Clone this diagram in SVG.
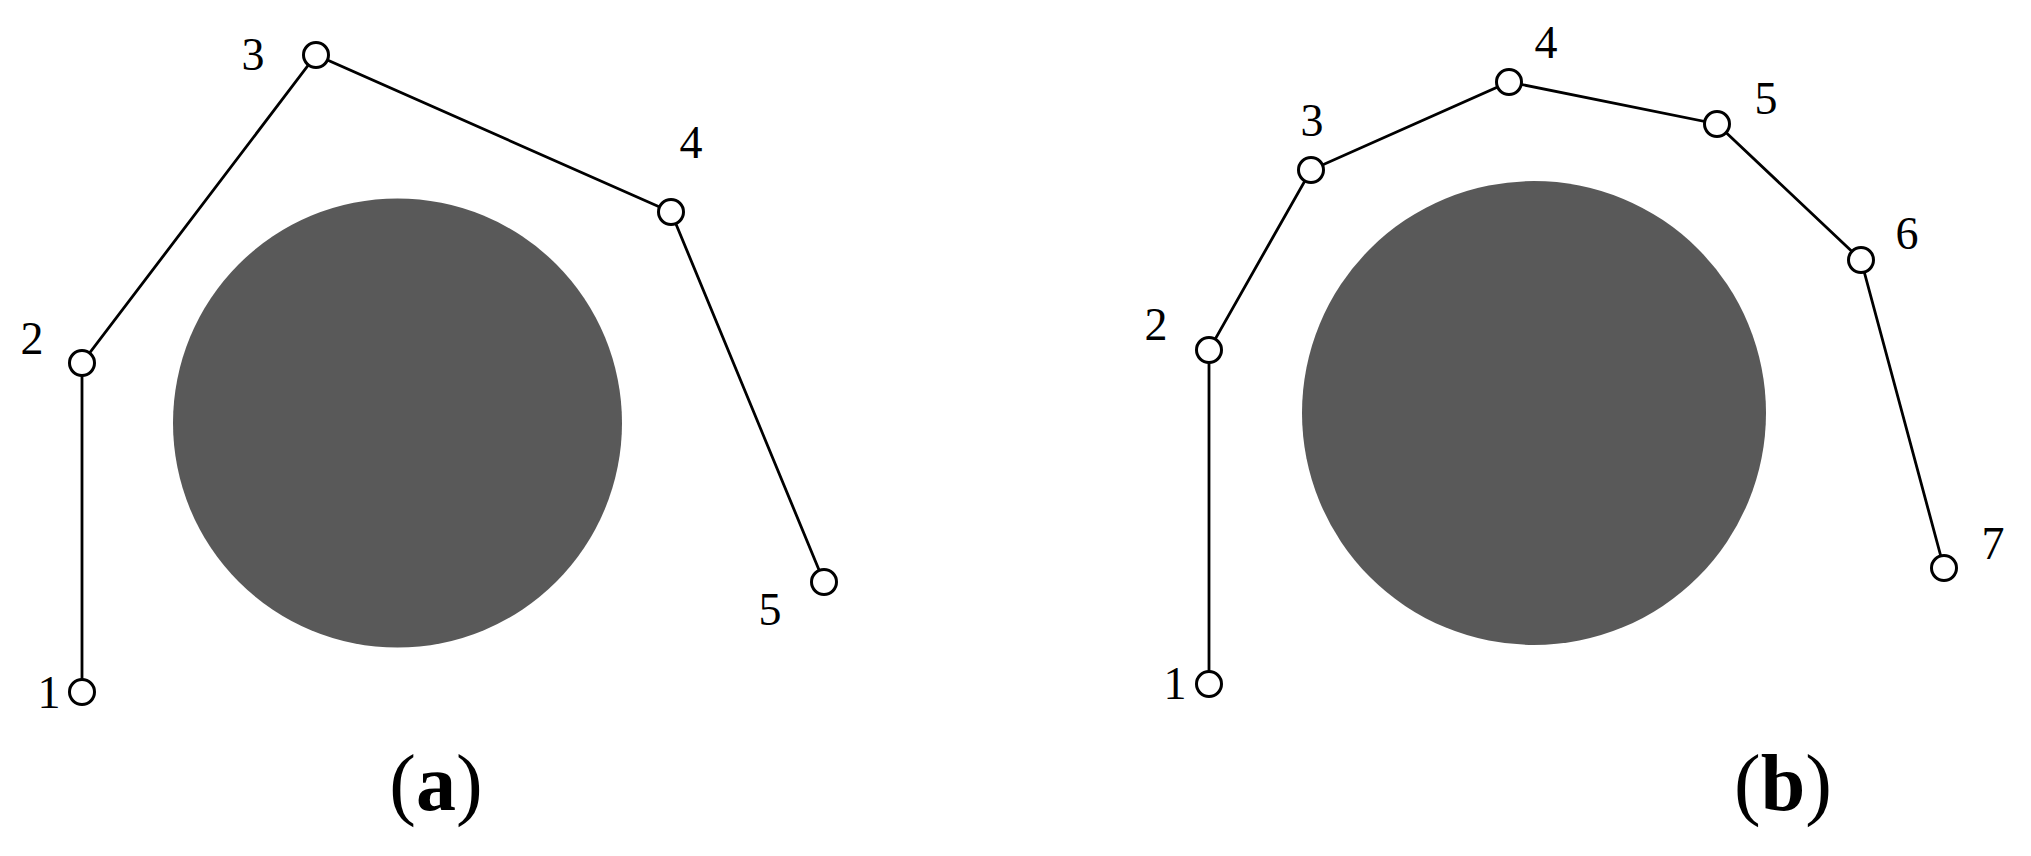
<svg xmlns="http://www.w3.org/2000/svg" width="2031" height="856" viewBox="0 0 2031 856">
<style>
.obs{fill:#595959;stroke:none}
.edge{fill:none;stroke:#000;stroke-width:2.8;stroke-linejoin:miter}
.node circle{fill:#fff;stroke:#000;stroke-width:3}
.lbl{font-family:"Liberation Serif","Times New Roman",serif;font-size:46px;fill:#000;text-anchor:middle}
.cap{font-family:"Liberation Serif","Times New Roman",serif;font-size:80px;fill:#000;text-anchor:middle}
</style>
<rect width="2031" height="856" fill="#fff"/>
<g id="obstacle-a"><circle class="obs" cx="397.5" cy="423" r="224.5"/></g>
<g id="obstacle-b"><circle class="obs" cx="1534" cy="413" r="232"/></g>
<g id="connectors">
<polyline class="edge" points="82,692 82,363 316,55 671,212 824,582"/>
<polyline class="edge" points="1209,684 1209,350 1311,170 1509,82 1717,124 1861,260 1944,568"/>
</g>
<g id="a-n1" class="node"><circle cx="82" cy="692" r="12.5"/><text class="lbl" x="49" y="708">1</text></g>
<g id="a-n2" class="node"><circle cx="82" cy="363" r="12.5"/><text class="lbl" x="32" y="354">2</text></g>
<g id="a-n3" class="node"><circle cx="316" cy="55" r="12.5"/><text class="lbl" x="253" y="70">3</text></g>
<g id="a-n4" class="node"><circle cx="671" cy="212" r="12.5"/><text class="lbl" x="691" y="158">4</text></g>
<g id="a-n5" class="node"><circle cx="824" cy="582" r="12.5"/><text class="lbl" x="770" y="625">5</text></g>
<g id="b-n1" class="node"><circle cx="1209" cy="684" r="12.5"/><text class="lbl" x="1175" y="699">1</text></g>
<g id="b-n2" class="node"><circle cx="1209" cy="350" r="12.5"/><text class="lbl" x="1156" y="340">2</text></g>
<g id="b-n3" class="node"><circle cx="1311" cy="170" r="12.5"/><text class="lbl" x="1312" y="136">3</text></g>
<g id="b-n4" class="node"><circle cx="1509" cy="82" r="12.5"/><text class="lbl" x="1546" y="58">4</text></g>
<g id="b-n5" class="node"><circle cx="1717" cy="124" r="12.5"/><text class="lbl" x="1766" y="114">5</text></g>
<g id="b-n6" class="node"><circle cx="1861" cy="260" r="12.5"/><text class="lbl" x="1907" y="249">6</text></g>
<g id="b-n7" class="node"><circle cx="1944" cy="568" r="12.5"/><text class="lbl" x="1993" y="559">7</text></g>
<g id="caption-a"><text class="cap" x="436" y="810">(<tspan font-weight="bold">a</tspan>)</text></g>
<g id="caption-b"><text class="cap" x="1783" y="810">(<tspan font-weight="bold">b</tspan>)</text></g>
</svg>
